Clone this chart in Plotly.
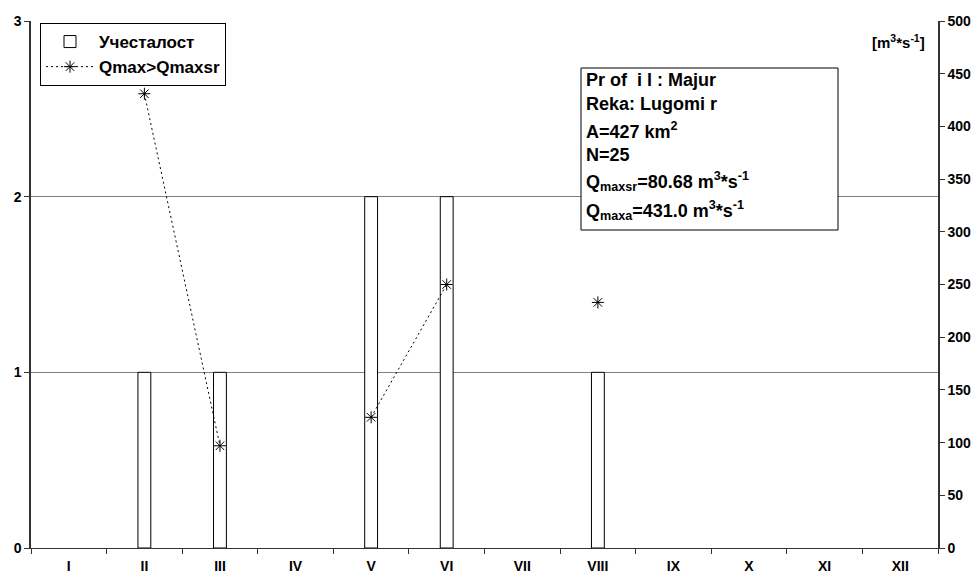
import plotly.graph_objects as go

months = ["I", "II", "III", "IV", "V", "VI", "VII", "VIII", "IX", "X", "XI", "XII"]
frequency = [0, 1, 1, 0, 2, 2, 0, 1, 0, 0, 0, 0]
qmax = [None, 431.0, 97, None, 124, 250, None, 233, None, None, None, None]

info_lines = [
    "Pr of  i l : Majur",
    "Reka: Lugomi r",
    "A=427 km<sup>2</sup>",
    "N=25",
    "Q<sub>maxsr</sub>=80.68 m<sup>3</sup>*s<sup>-1</sup>",
    "Q<sub>maxa</sub>=431.0 m<sup>3</sup>*s<sup>-1</sup>",
]

FONT = "Liberation Sans, Arial, sans-serif"
W, H = 977, 577
ML, MR, MT, MB = 31, 39, 21, 29
PW, PH = W - ML - MR, H - MT - MB


def px(x):
    return (x - ML) / PW


def py(y):
    return 1 - (y - MT) / PH


fig = go.Figure()
fig.add_trace(go.Bar(
    x=months, y=[v if v else None for v in frequency], name="Учесталост",
    width=0.17,
    marker=dict(color="white", line=dict(color="black", width=1)),
    yaxis="y",
))
fig.add_trace(go.Scatter(
    x=months, y=qmax, name="Qmax>Qmaxsr", mode="lines+markers",
    line=dict(color="black", width=1, dash="2px,3px"),
    marker=dict(symbol="asterisk-open", size=10, color="black",
                line=dict(color="black", width=1)),
    connectgaps=False, yaxis="y2",
))

tickfont = dict(family=FONT, size=14, color="black", weight="bold")

fig.update_layout(
    width=W, height=H,
    margin=dict(l=ML, r=MR, t=MT, b=MB, autoexpand=False),
    paper_bgcolor="white", plot_bgcolor="white",
    showlegend=True,
    legend=dict(
        x=px(40), y=py(23), xanchor="left", yanchor="top",
        bordercolor="black", borderwidth=1, bgcolor="white",
        font=dict(family=FONT, size=17, color="black", weight="bold"),
        itemwidth=48, tracegroupgap=0,
    ),
    xaxis=dict(
        type="category", range=[-0.5, 11.5], tickson="boundaries",
        ticks="outside", ticklen=5, tickcolor="#333", showline=True,
        linecolor="#333", linewidth=1, showgrid=False, tickfont=tickfont,
        zeroline=False, automargin=False, ticklabelstandoff=5,
    ),
    yaxis=dict(
        range=[0, 3], dtick=1, ticks="outside", ticklen=5, tickcolor="#333",
        showline=True, linecolor="#333", linewidth=1.5, showgrid=True,
        gridcolor="#808080", gridwidth=1, tickfont=tickfont, zeroline=False,
        automargin=False,
    ),
    yaxis2=dict(
        range=[0, 500], dtick=50, overlaying="y", side="right",
        ticks="outside", ticklen=5, tickcolor="#333", showline=True,
        linecolor="#333", linewidth=1.5, showgrid=False, tickfont=tickfont,
        zeroline=False, automargin=False,
    ),
    bargap=0.8,
)

# info box
box_x0, box_x1, box_y0, box_y1 = 581, 838, 68, 230
fig.add_shape(type="rect", xref="paper", yref="paper",
              x0=px(box_x0), x1=px(box_x1), y0=py(box_y1), y1=py(box_y0),
              line=dict(color="black", width=1), fillcolor="white", layer="above")
line_y = [80, 104, 130, 155, 182, 210]
for txt, yy in zip(info_lines, line_y):
    fig.add_annotation(
        text=txt, xref="paper", yref="paper", x=px(584), y=py(yy),
        xanchor="left", yanchor="middle", showarrow=False,
        font=dict(family=FONT, size=18, color="black", weight="bold"),
    )

fig.add_annotation(
    text="[m<sup>3</sup>*s<sup>-1</sup>]", xref="paper", yref="paper",
    x=px(927), y=py(41), xanchor="right", yanchor="middle", showarrow=False,
    font=dict(family=FONT, size=15, color="black", weight="bold"),
)

fig.write_html(
    "out.html",
    config={"displayModeBar": False},
    post_script="document.body.style.margin='0';document.body.style.padding='0';",
)
